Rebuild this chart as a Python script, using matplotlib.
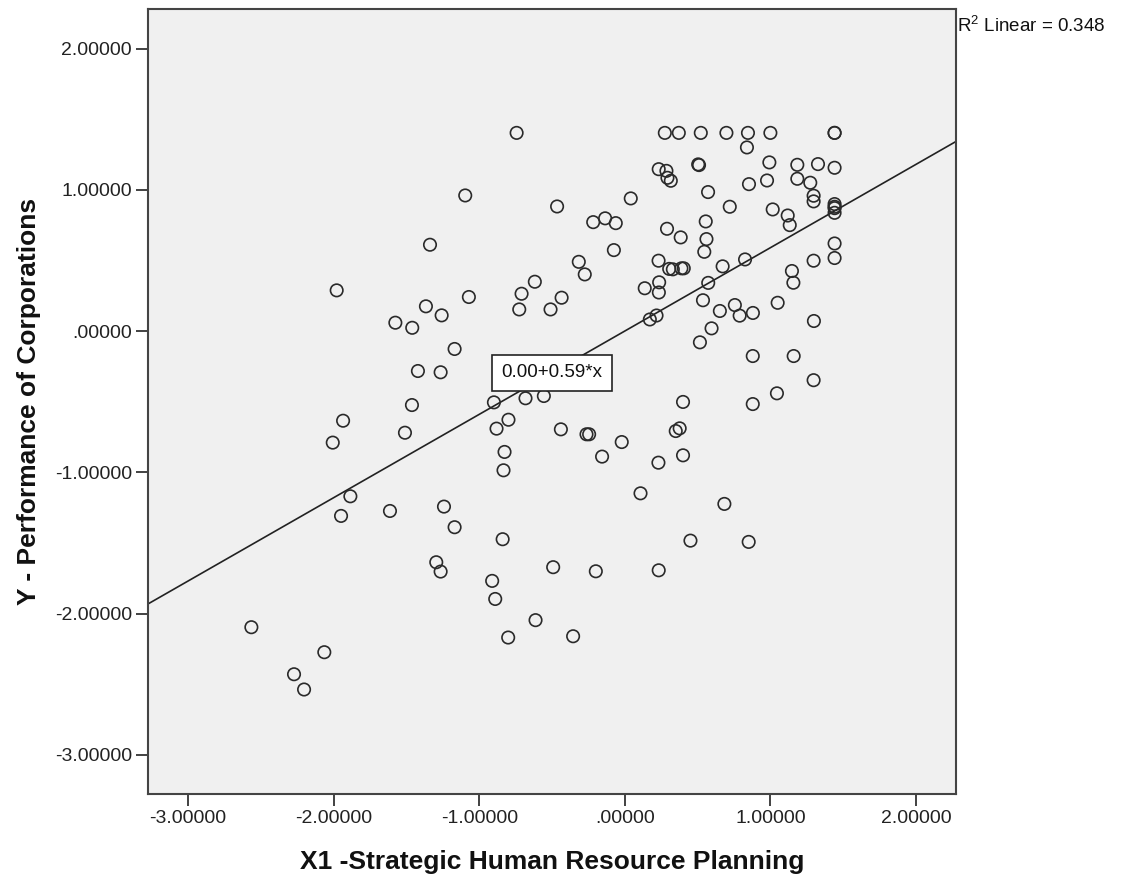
import matplotlib
matplotlib.use("Agg")
import matplotlib.pyplot as plt
import numpy as np

# ---- data ----
x_vals = [
    -0.743, -1.096, -0.465, -1.338, -1.979, -0.618, -0.709, -1.071, -0.725, -0.510,
    -0.434, -1.366, -1.258, -1.576, -1.460, -1.169, -1.421, -1.265, -1.462, -0.899,
    -0.682, -0.556, -1.935, -2.006, -1.510, -0.799, -0.881, -0.826, -0.833, -0.439,
    -1.885, -1.949, -1.613, -1.242, -1.169, -0.839, -1.295, -1.265, -0.911, -0.890,
    -0.492, -0.613, -0.801, -2.565, -2.064, -2.272, -2.203,
    -0.263, -0.245, -0.021, -0.156, 0.400, 0.350, 0.377, 0.400, 0.231, 0.879,
    1.045, 1.297, 0.108, 0.684, 0.451, 0.851, -0.199, 0.233, -0.355,
    0.275, 0.371, 0.522, 0.698, 0.846, 1.000, 1.441, 1.441,
    0.839, 0.233, 0.286, 0.293, 0.316, 0.504, 0.510, 0.993, 1.185, 1.327,
    1.441, 0.977, 1.185, 1.274, 0.853, 0.572, 0.041, 0.721, 1.297, 1.297,
    1.441, 1.441, 1.441, 1.441, 1.016, 1.119, 1.133, -0.217, -0.135, -0.062,
    0.556, 0.290, 0.384, 0.561, 0.546, -0.075, 1.441, 1.441, 1.297, -0.316,
    -0.275, 0.232, 0.305, 0.330, 0.389, 0.405, 0.826, 0.672, 0.236, 0.234,
    0.137, 0.573, 1.148, 1.158, 0.537, 1.050, 0.756, 0.789, 0.653, 0.880,
    0.172, 0.218, 1.299, 0.596, 0.516, 0.879, 1.160,
]
y_vals = [
    1.403, 0.960, 0.882, 0.611, 0.288, 0.349, 0.264, 0.241, 0.153, 0.153,
    0.236, 0.175, 0.111, 0.059, 0.023, -0.127, -0.283, -0.292, -0.524, -0.505,
    -0.476, -0.460, -0.635, -0.790, -0.720, -0.628, -0.691, -0.856, -0.986, -0.696,
    -1.170, -1.309, -1.274, -1.243, -1.389, -1.474, -1.637, -1.703, -1.769, -1.897,
    -1.672, -2.047, -2.170, -2.097, -2.274, -2.430, -2.538,
    -0.731, -0.731, -0.786, -0.889, -0.502, -0.708, -0.689, -0.880, -0.932, -0.517,
    -0.441, -0.348, -1.149, -1.224, -1.484, -1.493, -1.701, -1.694, -2.161,
    1.403, 1.403, 1.403, 1.403, 1.403, 1.403, 1.403, 1.403,
    1.300, 1.146, 1.134, 1.085, 1.064, 1.180, 1.175, 1.194, 1.177, 1.182,
    1.156, 1.066, 1.078, 1.050, 1.040, 0.984, 0.939, 0.880, 0.958, 0.918,
    0.899, 0.880, 0.870, 0.837, 0.861, 0.818, 0.750, 0.771, 0.798, 0.764,
    0.776, 0.724, 0.663, 0.651, 0.561, 0.573, 0.620, 0.517, 0.498, 0.490,
    0.401, 0.498, 0.440, 0.437, 0.444, 0.444, 0.507, 0.458, 0.345, 0.273,
    0.303, 0.341, 0.425, 0.342, 0.218, 0.200, 0.184, 0.109, 0.142, 0.128,
    0.082, 0.110, 0.071, 0.019, -0.080, -0.177, -0.177,
]
fit_intercept = 0.00
fit_slope = 0.59
r2_text = r"R$^{2}$ Linear = 0.348"
fit_label = "0.00+0.59*x"
label_x = -0.50

x_ticks = [-3, -2, -1, 0, 1, 2]
y_ticks = [-3, -2, -1, 0, 1, 2]
tick_labels = ["-3.00000", "-2.00000", "-1.00000", ".00000", "1.00000", "2.00000"]
x_label = "X1 -Strategic Human Resource Planning"
y_label = "Y - Performance of Corporations"

# ---- figure ----
plt.rcParams['font.family'] = ['Liberation Sans', 'DejaVu Sans']
plt.rcParams['mathtext.fontset'] = 'custom'
plt.rcParams['mathtext.rm'] = 'Liberation Sans'
plt.rcParams['mathtext.it'] = 'Liberation Sans'
plt.rcParams['mathtext.default'] = 'regular'

W, H = 1122, 880
fig = plt.figure(figsize=(W / 100, H / 100), dpi=100)
left, right, top, bottom = 148, 956, 9.3, 794.3
ax = fig.add_axes([left / W, (H - bottom) / H, (right - left) / W, (bottom - top) / H])
ax.set_facecolor('#f0f0f0')

lim = (-3.275, 2.275)
ax.set_xlim(lim)
ax.set_ylim(-3.28, 2.278)

ax.scatter(x_vals, y_vals, s=80, facecolors='none', edgecolors='#2a2a2a',
           linewidths=1.2, zorder=3)

xx = np.array(lim)
ax.plot(xx, fit_intercept + fit_slope * xx, color='#222222', lw=1.2, zorder=2)

ax.text(label_x, fit_intercept + fit_slope * label_x, fit_label, fontsize=13.5,
        ha='center', va='center', color='#111111', zorder=4,
        bbox=dict(boxstyle='square,pad=0.5', facecolor='white', edgecolor='#222222', lw=1.2))

ax.set_xticks(x_ticks)
ax.set_xticklabels(tick_labels)
ax.set_yticks(y_ticks)
ax.set_yticklabels(tick_labels)
ax.tick_params(axis='both', direction='out', length=8.5, width=1.3, color='#333333',
               labelsize=14, labelcolor='#222222')
ax.tick_params(axis='x', pad=2.5)
ax.tick_params(axis='y', pad=3)
for s in ax.spines.values():
    s.set_color('#444444')
    s.set_linewidth(1.5)

ax.set_xlabel(x_label, fontsize=19, fontweight='bold', labelpad=17, color='#111111')
ax.set_ylabel(y_label, fontsize=19, fontweight='bold', labelpad=10, color='#111111')

fig.text(957 / W, (H - 31.7) / H, r2_text, fontsize=13.5, ha='left', va='baseline',
         color='#111111')

fig.savefig('out.png', dpi=100)
